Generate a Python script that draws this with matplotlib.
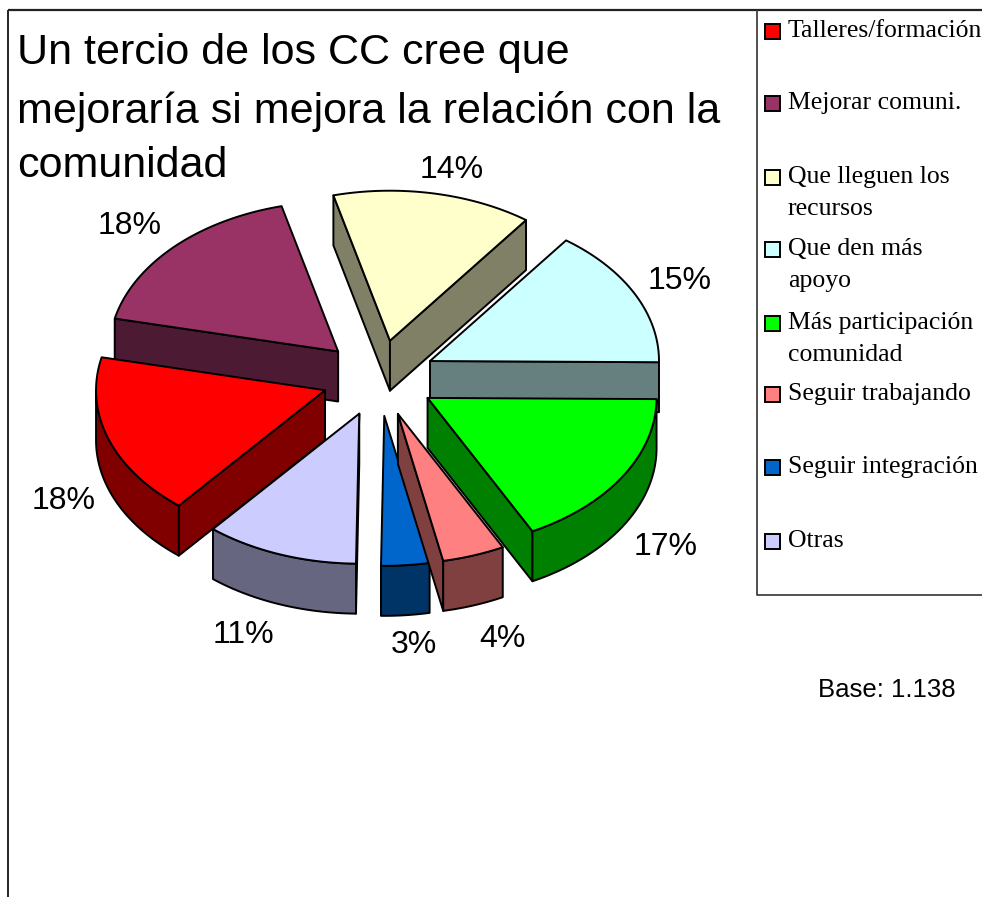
import numpy as np
import matplotlib
matplotlib.use('Agg')
import matplotlib.pyplot as plt
from matplotlib.patches import Polygon, Rectangle

categories = ['Talleres/formación', 'Mejorar comuni.', 'Que lleguen los\nrecursos', 'Que den más\napoyo',
              'Más participación\ncomunidad', 'Seguir trabajando', 'Seguir integración', 'Otras']
shares = [17.5, 17.5, 14.1, 15.0, 17.3, 4.4, 3.4, 10.8]
colors = ['#FF0000', '#993366', '#FFFFCC', '#CCFFFF', '#00FF00', '#FF8080', '#0066CC', '#CCCCFF']

title_lines = ['Un tercio de los CC cree que', 'mejoraría si mejora la relación con la', 'comunidad']
base_text = 'Base: 1.138'

# pie geometry, in pixels of the picture
CX, CY = 379, 378
RX, RY = 229, 150
EX, EY = 57, 38
DEPTH = 50
START = 219.7
DRAW_ORDER = [2, 1, 3, 0, 4, 7, 6, 5]

LABEL_POS = [(64, 501), (130, 226), (452, 170), (680, 281), (666, 547), (502, 639), (414, 645), (243, 635)]
LEGEND_Y = [31, 103, 177, 249, 323, 394, 467, 541]

fig = plt.figure(figsize=(9.82, 8.97), dpi=100)
ax = fig.add_axes([0, 0, 1, 1])
ax.set_xlim(0, 982)
ax.set_ylim(897, 0)
ax.axis('off')


def darker(color):
    return tuple(c / 2 for c in matplotlib.colors.to_rgb(color))


def cross(a, b):
    return a[0] * b[1] - a[1] * b[0]


def draw_slice(theta0, theta1, color):
    mid = np.radians((theta0 + theta1) / 2)
    apex = np.array([CX + EX * np.sin(mid), CY - EY * np.cos(mid)])

    t = np.radians(np.linspace(theta0, theta1, 80))
    arc = np.column_stack([apex[0] + RX * np.sin(t), apex[1] - RY * np.cos(t)])
    inner = arc[len(arc) // 2] - apex
    down = np.array([0, DEPTH])
    side = darker(color)

    # only the cut faces that look towards the viewer
    for edge in (arc[0], arc[-1]):
        if cross(edge - apex, inner) * cross(edge - apex, down) < 0:
            ax.add_patch(Polygon([apex, edge, edge + down, apex + down], fc=side, ec='black', lw=1.4, joinstyle='round'))

    front = arc[np.cos(t) <= 0]
    if len(front) > 1:
        ax.add_patch(Polygon(np.vstack([front, (front + down)[::-1]]), fc=side, ec='black', lw=1.4, joinstyle='round'))
    ax.add_patch(Polygon(np.vstack([apex, arc]), fc=color, ec='black', lw=1.4, joinstyle='round'))


edges = START + np.concatenate([[0], np.cumsum(shares)]) * 360 / sum(shares)
for i in DRAW_ORDER:
    draw_slice(edges[i], edges[i + 1], colors[i])

for share, (x, y) in zip(shares, LABEL_POS):
    ax.text(x, y, f'{int(share + 0.5)}%', family='Liberation Sans', fontsize=23, ha='center', va='center')

# frame, runs off the right and bottom of the picture
ax.plot([8, 8], [897, 10], color='black', lw=1.2, solid_capstyle='butt')
ax.plot([8, 982], [10, 10], color='#222222', lw=1.6, solid_capstyle='butt')
ax.plot([757, 757, 982], [10, 595, 595], color='#333333', lw=1.2)

for line, y in zip(title_lines, [53, 111, 166]):
    ax.text(17, y, line, family='Liberation Sans', fontsize=31, ha='left', va='center')

for label, color, y in zip(categories, colors, LEGEND_Y):
    ax.add_patch(Rectangle((765, y - 7), 15, 15, fc=color, ec='black', lw=1.4))
    ax.text(788, y - 11, label, family='Liberation Serif', fontsize=18.5, ha='left', va='top', linespacing=1.6)

ax.text(887, 690, base_text, family='Liberation Sans', fontsize=18.5, ha='center', va='center')

fig.savefig('out.png', dpi=100)
